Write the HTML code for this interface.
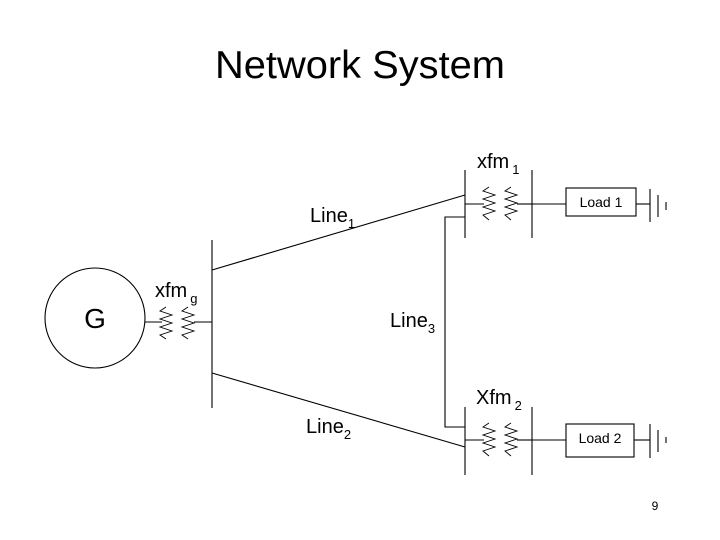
<!DOCTYPE html>
<html><head><style>
body{margin:0;background:#fff;}
svg{display:block;font-family:"Liberation Sans",sans-serif;}
</style></head><body>
<svg width="720" height="540" viewBox="0 0 720 540">
<text x="360" y="78" font-size="39" text-anchor="middle" textLength="290" lengthAdjust="spacingAndGlyphs">Network System</text>
<g stroke="#000" stroke-width="1.1" fill="none">
<circle cx="95" cy="318" r="50"/>
<line x1="145" y1="322" x2="162" y2="322"/>
<line x1="194" y1="322" x2="212" y2="322"/>
<line x1="212" y1="240" x2="212" y2="408"/>
<polyline stroke-width="0.9" points="166,307 160,311 172,315 160,319 172,323 160,327 172,331 160,335 166,339"/>
<polyline stroke-width="0.9" points="188,307 182,311 194,315 182,319 194,323 182,327 194,331 182,335 188,339"/>
<line x1="212" y1="270" x2="465" y2="195"/>
<line x1="212" y1="373" x2="465" y2="447"/>
<polyline points="445,405 445,217 465,217"/>
<polyline points="445,405 445,427 465,427"/>
<!-- xfm1 -->
<line x1="465" y1="170" x2="465" y2="238"/>
<line x1="532" y1="170" x2="532" y2="238"/>
<line x1="465" y1="204" x2="484" y2="204"/>
<line x1="517" y1="204" x2="532" y2="204"/>
<polyline stroke-width="0.9" points="489,187 483,191 495,195 483,199 495,203 483,207 495,211 483,215 489,220"/>
<polyline stroke-width="0.9" points="511,187 505,191 517,195 505,199 517,203 505,207 517,211 505,215 511,220"/>
<line x1="532" y1="204" x2="566" y2="204"/>
<rect x="566" y="188" width="70" height="28"/>
<line x1="636" y1="204" x2="650" y2="204"/>
<line x1="650" y1="189" x2="650" y2="222"/>
<line x1="658" y1="195" x2="658" y2="217"/>
<line x1="666" y1="202" x2="666" y2="210"/>
<!-- xfm2 -->
<line x1="465" y1="407" x2="465" y2="475"/>
<line x1="532" y1="407" x2="532" y2="475"/>
<line x1="465" y1="440" x2="484" y2="440"/>
<line x1="517" y1="440" x2="532" y2="440"/>
<polyline stroke-width="0.9" points="489,423 483,427 495,431 483,435 495,439 483,443 495,447 483,451 489,456"/>
<polyline stroke-width="0.9" points="511,423 505,427 517,431 505,435 517,439 505,443 517,447 505,451 511,456"/>
<line x1="532" y1="440" x2="566" y2="440"/>
<rect x="566" y="424" width="68" height="33"/>
<line x1="634" y1="440" x2="650" y2="440"/>
<line x1="650" y1="424" x2="650" y2="458"/>
<line x1="658" y1="430" x2="658" y2="452"/>
<line x1="666" y1="437" x2="666" y2="443"/>
</g>
<text x="95" y="328" font-size="28" text-anchor="middle">G</text>
<text x="155" y="297" font-size="20">xfm<tspan font-size="13" dy="6" dx="3">g</tspan></text>
<text x="310" y="222" font-size="20">Line<tspan font-size="13" dy="6">1</tspan></text>
<text x="390" y="327" font-size="20">Line<tspan font-size="13" dy="6">3</tspan></text>
<text x="306" y="433" font-size="20">Line<tspan font-size="13" dy="6">2</tspan></text>
<text x="477" y="168" font-size="20">xfm<tspan font-size="13" dy="6" dx="3">1</tspan></text>
<text x="476" y="404" font-size="20">Xfm<tspan font-size="13" dy="6" dx="3">2</tspan></text>
<text x="601" y="207" font-size="14" text-anchor="middle">Load 1</text>
<text x="600" y="443" font-size="14" text-anchor="middle">Load 2</text>
<text x="655" y="510" font-size="12" text-anchor="middle">9</text>
</svg>
</body></html>
